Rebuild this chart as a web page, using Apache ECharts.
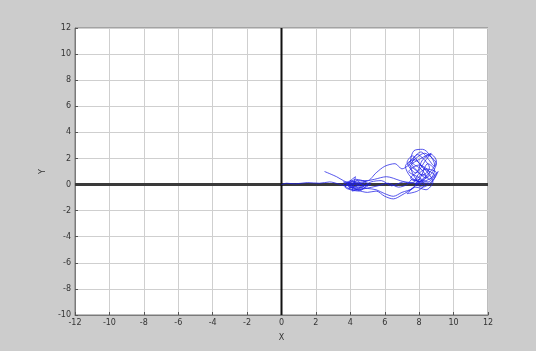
<!DOCTYPE html>
<html><head><meta charset="utf-8">
<script src="https://cdn.jsdelivr.net/npm/echarts@6/dist/echarts.min.js"></script>
<style>html,body{margin:0;padding:0;background:#cccccc;}#c{width:536px;height:351px;}</style>
</head><body><div id="c"></div>
<script>
// Axis ranges / ticks
const xRange = [-12, 12];
const yRange = [-10, 12];
const tickStep = 2;
const xName = 'X';
const yName = 'Y';

// Trajectory
const trajX = [0,0.3,0.8,1.5,2.2,2.8,3.3,3.7,4.0,3.6,4.2,4.6,3.9,4.4,4.8,5.2,4.5,3.8,4.3,4.1,4.9,5.6,6.2,6.8,7.3,7.6,8.0,
  8.4,8.1,7.6,7.9,8.3,8.6,8.2,7.8,7.4,7.7,8.1,8.5,8.9,9.0,8.7,8.2,7.9,7.5,7.7,8.2,8.6,8.9,8.5,8.1,
  7.6,7.0,6.5,6.0,5.5,5.0,4.3,3.9,4.6,5.0,5.5,6.0,6.6,7.0,7.4,7.8,8.3,8.7,9.0,8.8,8.4,8.0,7.5,7.7,8.2,8.6,8.9,8.5,8.1,
  7.6,7.0,6.5,6.0,5.5,5.0,4.4,4.0,4.7,5.4,6.1,6.9,7.5,8.0,8.3,7.9,7.3,7.8,8.4,8.8,8.3,7.7,7.2,7.5,8.1,8.7,9.1,8.8,8.2,7.8,
  8.3,8.6,8.0,7.4,7.9,8.5,8.9,8.2,7.6,7.3,7.8,8.4,8.7,8.1,7.5,7.9,8.6,9.0,8.4,7.8,8.2,
  7.1,6.4,5.8,5.2,4.6,4.1,3.6,4.2,4.8,4.0,3.7,4.5,5.0,4.3,3.9,4.4,4.9,4.2,3.6,3.2,2.5];
const trajY = [0,0.1,0.05,0.15,0.1,0.2,0.05,-0.1,0.1,0.2,-0.2,0.0,-0.3,0.3,-0.1,0.05,-0.4,0.0,0.6,-0.5,-0.3,-0.1,0.1,-0.2,0.0,0.4,0.2,
  0.6,1.2,1.7,2.3,1.9,1.3,0.7,1.1,1.6,2.1,2.5,2.0,1.4,1.8,2.3,1.9,1.0,0.5,0.3,0.8,0.4,1.1,1.6,0.6,
  -0.3,-0.6,-0.9,-0.7,-0.4,-0.3,-0.2,0.1,0.3,0.3,0.9,1.4,1.6,1.2,1.5,2.0,2.4,2.1,1.6,1.0,0.5,0.9,1.8,2.6,2.7,2.3,1.5,0.8,0.3,
  -0.3,-0.8,-1.1,-0.9,-0.5,-0.6,-0.4,0.0,0.2,0.4,0.6,0.3,0.1,0.4,0.0,-0.5,-0.7,-0.2,-0.4,0.2,1.2,1.9,1.4,0.6,0.2,0.5,1.0,0.3,-0.2,0.1,
  0.4,0.9,1.5,1.0,0.6,0.2,0.7,1.3,2.2,1.7,0.9,1.9,2.4,2.0,1.4,0.3,0.1,0.9,1.2,0.4,0.0,
  0.2,-0.1,0.3,0.2,-0.2,0.3,0.0,-0.4,-0.1,0.2,-0.2,-0.5,0.1,0.4,-0.1,-0.3,0.2,0.0,0.3,0.6,1.0];

const chart = echarts.init(document.getElementById('c'), null, {renderer:'canvas'});
const traj = trajX.map((x,i)=>[x, trajY[i]]);
chart.setOption({
  animation:false,
  backgroundColor:'#cccccc',
  grid:{left:75, right:48, top:28, bottom:36, show:true, backgroundColor:'#ffffff', borderColor:'#7a7a7a', borderWidth:1},
  xAxis:{type:'value', min:xRange[0], max:xRange[1], interval:tickStep,
    name:xName, nameLocation:'middle', nameGap:19, nameTextStyle:{fontSize:8,color:'#333',fontFamily:'DejaVu Sans'},
    axisLine:{show:true,onZero:false,lineStyle:{color:'#7a7a7a'}},
    axisTick:{show:true,inside:true,length:3,lineStyle:{color:'#555'}},
    axisLabel:{fontSize:8,color:'#333',margin:4,fontFamily:'DejaVu Sans'},
    splitLine:{show:true,lineStyle:{color:'#cfcfcf',width:1}}},
  yAxis:{type:'value', min:yRange[0], max:yRange[1], interval:tickStep,
    name:yName, nameLocation:'middle', nameGap:25, nameTextStyle:{fontSize:8,color:'#333',fontFamily:'DejaVu Sans'},
    axisLine:{show:true,onZero:false,lineStyle:{color:'#7a7a7a'}},
    axisTick:{show:true,inside:true,length:3,lineStyle:{color:'#555'}},
    axisLabel:{fontSize:8,color:'#333',margin:4,fontFamily:'DejaVu Sans'},
    splitLine:{show:true,lineStyle:{color:'#cfcfcf',width:1}}},
  series:[
    {type:'line', data:[[xRange[0],0],[xRange[1],0]], symbol:'none', lineStyle:{color:'#3a3a3a',width:3}, z:3},
    {type:'line', data:[[0,yRange[0]],[0,yRange[1]]], symbol:'none', lineStyle:{color:'#111111',width:2}, z:3},
    {type:'line', data:traj, symbol:'none', smooth:0.3, lineStyle:{color:'rgba(30,30,230,0.75)',width:1}, z:4}
  ]
});
</script></body></html>
